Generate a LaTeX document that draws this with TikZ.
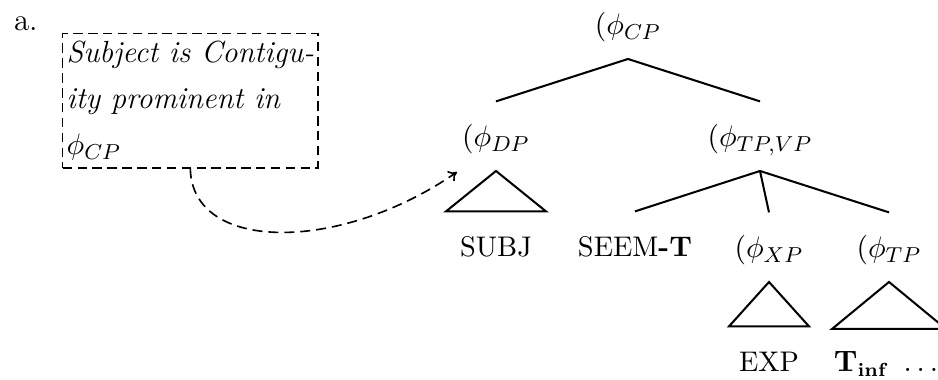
\documentclass[tikz,border=0pt]{standalone}
\usepackage{amsmath,amssymb}
\usepackage{tikz}
\usetikzlibrary{arrows.meta,calc}
\tikzset{
    >={To[length=3pt,width=4.5pt]},
    every picture/.style={line width=0.75pt},
    phrase/.style={anchor=base,inner xsep=1pt,inner ysep=5.5pt,text height=11pt,text depth=3pt,font=\fontsize{11}{13}\selectfont},
    word/.style={phrase,font=\fontsize{10.5}{12}\selectfont},
    notebox/.style={draw,dash pattern=on 3.5pt off 2pt,line width=0.55pt,align=left,inner sep=0pt,
        minimum width=94.4pt,minimum height=49.6pt,font=\itshape\fontsize{11.3}{17}\selectfont},
    linkarrow/.style={dash pattern=on 3.7pt off 2.2pt,line width=0.6pt,->}
}

\begin{document}
\begin{tikzpicture}[x=0.37pt,y=-0.37pt]
    \useasboundingbox (0,0) rectangle (938,380);

    \node[anchor=base west,inner sep=0pt,font=\fontsize{11.5}{13}\selectfont] (ex) at (13,31) {a.};
    \node[notebox,anchor=north west] (note) at (62,33) {Subject is Contigu-\\ity prominent in\\$\phi_{CP}$};

    % Phrases
    \node[phrase] (cp) at (628,35) {$(\phi_{CP}$};
    \node[phrase] (dp) at (496,147) {$(\phi_{DP}$};
    \node[phrase] (tpvp) at (760,147) {$(\phi_{TP,VP}$};
    \node[word] (subj) at (496,257) {SUBJ};
    \node[word] (seem) at (635,257) {SEEM\textbf{-T}};
    \node[phrase] (xp) at (769,258) {$(\phi_{XP}$};
    \node[phrase] (tp) at (889,258) {$(\phi_{TP}$};
    \node[word] (exp) at (769,372) {EXP};
    \node[word] (tinf) at (886,372) {$\mathbf{T}_{\mathbf{inf}}\ \ldots$};

    % Branches
    \draw (cp.south) -- (dp.north);
    \draw (cp.south) -- (tpvp.north);
    \foreach \d in {seem,xp,tp}
        \draw (tpvp.south) -- (\d.north);

    % Roofs
    \draw (dp.south) -- ($(subj.north)+(-50,0)$) -- ($(subj.north)+(50,0)$) -- cycle;
    \draw (xp.south) -- ($(exp.north)+(-40,0)$) -- ($(exp.north)+(40,0)$) -- cycle;
    \draw (tp.south) -- ($(tp.south)+(-57,47)$) -- ($(tp.south)+(57,47)$) -- cycle;

    % Dashed link from the note
    \coordinate (target) at (457,172);
    \draw[linkarrow] (note.south) .. controls (192,253) and (340,253) .. (target);
\end{tikzpicture}
\end{document}
